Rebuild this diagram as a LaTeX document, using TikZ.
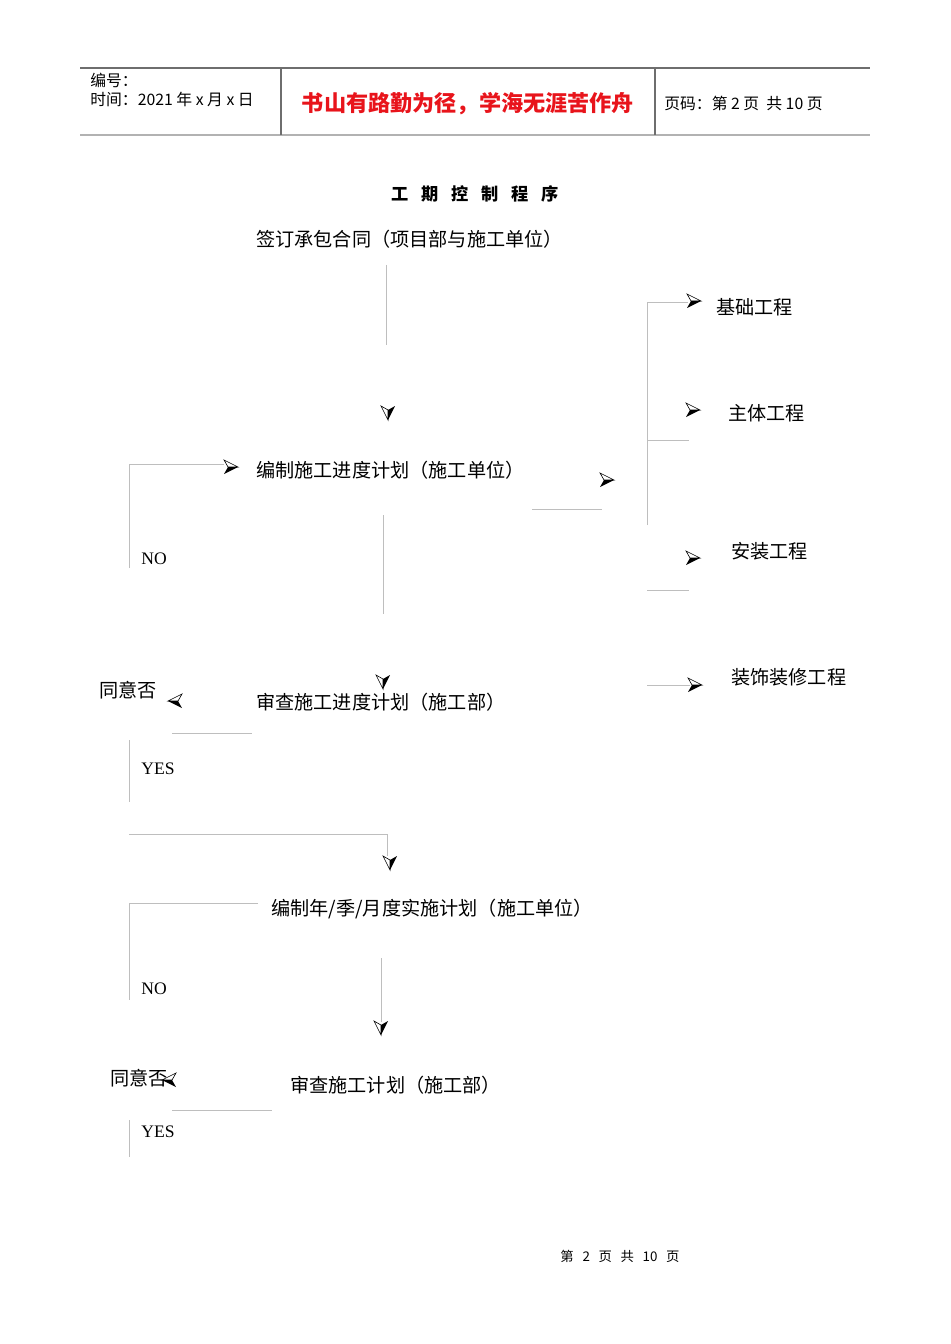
\documentclass[tikz,border=0pt]{standalone}
\usepackage{fontspec}
\setmainfont{Liberation Serif}
\newfontfamily\cjk{Noto Sans CJK SC}
\usetikzlibrary{arrows.meta, positioning, calc}
\definecolor{flowgray}{HTML}{BEBEBE}
\definecolor{rulegray}{HTML}{6E6E6E}
\definecolor{mottored}{HTML}{E8141B}

\tikzset{
  tipmark/.pic={
    \draw[black, fill=white, line width=0.35pt] (0,0) -- (-14,-7) -- (-10,0) -- cycle;
    \fill[black] (0,0) -- (-14,7) -- (-10,0) -- cycle;
  }
}

\begin{document}
\begin{tikzpicture}[x=0.02cm, y=-0.02cm,
      stage/.style={anchor=west, inner sep=0pt,
        font=\cjk\fontsize{10.9}{12}\selectfont},
      verdict/.style={anchor=west, inner sep=0pt,
        font=\fontsize{10}{12}\selectfont},
      headtext/.style={anchor=west, inner sep=0pt,
        font=\cjk\fontsize{9}{10}\selectfont},
      flow/.style={draw=flowgray, line width=0.55pt},
      >=Latex
    ]
  \useasboundingbox (0,0) rectangle (950,1344);

  % header table
  \draw[rulegray, line width=0.7pt] (80,68) -- (870,68);
  \draw[gray!60, line width=1.2pt] (80,135) -- (870,135);
  \draw[rulegray, line width=0.7pt] (281,68) -- (281,135);
  \draw[rulegray, line width=0.7pt] (655,68) -- (655,135);
  \node[headtext] (serial) at (90,80) {编号：};
  \node[headtext] (date) at (90,99) {时间：2021 年 x 月 x 日};
  \node[inner sep=0pt, text=mottored,
    font=\cjk\bfseries\fontsize{12.6}{14}\selectfont] (motto) at (468,104)
    {书山有路勤为径，学海无涯苦作舟};
  \node[headtext] (pageno) at (664,103) {页码：第 2 页\ \ 共 10 页};

  % title
  \node[inner sep=0pt, font=\cjk\bfseries\fontsize{9.8}{12}\selectfont]
    (title) at (475,194)
    {工\hspace{0.75em}期\hspace{0.75em}控\hspace{0.75em}制\hspace{0.75em}程\hspace{0.75em}序};

  % main column
  \node[stage] (contract) at (256,239) {签订承包合同（项目部与施工单位）};
  \node[stage] (draftplan) at (256,470) {编制施工进度计划（施工单位）};
  \node[stage] (reviewplan) at (256,702) {审查施工进度计划（施工部）};
  \node[stage] (periodplan) at (271,909) {编制年/季/月度实施计划（施工单位）};
  \node[stage] (reviewwork) at (290,1085) {审查施工计划（施工部）};

  \node[stage] (agreeA) at (99,690) {同意否};
  \node[stage] (agreeB) at (110,1078) {同意否};
  \node[verdict] (noA) at (141,559) {NO};
  \node[verdict] (yesA) at (141,769) {YES};
  \node[verdict] (noB) at (141,989) {NO};
  \node[verdict] (yesB) at (141,1132) {YES};

  % sub-works
  \node[stage] (found) at (716,307) {基础工程};
  \node[stage] (struct) at (728,413) {主体工程};
  \node[stage] (install) at (731,551) {安装工程};
  \node[stage] (finish) at (731,677) {装饰装修工程};

  % footer
  \node[inner sep=0pt, font=\cjk\fontsize{7.6}{9}\selectfont] (footer)
    at (620,1256)
    {第\hspace{0.65em}2\hspace{0.65em}页\hspace{0.65em}共\hspace{0.65em}10\hspace{0.65em}页};

  % connector pieces
  \coordinate (c1) at (386,265);   \coordinate (c2) at (386,345);
  \coordinate (n1) at (129,568);   \coordinate (n2) at (129,464);
  \coordinate (n3) at (224,464);
  \coordinate (r1) at (532,509);   \coordinate (r2) at (602,509);
  \coordinate (d1) at (383,515);   \coordinate (d2) at (383,614);
  \coordinate (g1) at (172,733);   \coordinate (g2) at (252,733);
  \coordinate (y1) at (129,740);   \coordinate (y2) at (129,802);
  \coordinate (h1) at (129,834);   \coordinate (h2) at (387,834);
  \coordinate (h3) at (387,856);
  \coordinate (m1) at (258,903);   \coordinate (m2) at (129,903);
  \coordinate (m3) at (129,1000);
  \coordinate (v1) at (381,958);   \coordinate (v2) at (381,1022);
  \coordinate (k1) at (172,1110);  \coordinate (k2) at (272,1110);
  \coordinate (z1) at (129,1120);  \coordinate (z2) at (129,1157);
  \coordinate (b1) at (647,525);   \coordinate (b2) at (647,302);
  \coordinate (b3) at (688,302);
  \coordinate (s1) at (647,440);   \coordinate (s2) at (689,440);
  \coordinate (t1) at (647,590);   \coordinate (t2) at (689,590);
  \coordinate (f1) at (647,685);   \coordinate (f2) at (690,685);

  \draw[flow] (c1) -- (c2);
  \draw[flow] (n1) -- (n2) -- (n3);
  \draw[flow] (r1) -- (r2);
  \draw[flow] (d1) -- (d2);
  \draw[flow] (g1) -- (g2);
  \draw[flow] (y1) -- (y2);
  \draw[flow] (h1) -- (h2) -- (h3);
  \draw[flow] (m1) -- (m2) -- (m3);
  \draw[flow] (v1) -- (v2);
  \draw[flow] (k1) -- (k2);
  \draw[flow] (z1) -- (z2);
  \draw[flow] (b1) -- (b2) -- (b3);
  \draw[flow] (s1) -- (s2);
  \draw[flow] (t1) -- (t2);
  \draw[flow] (f1) -- (f2);

  % arrow marks
  \pic[rotate=-90, yscale=-1] at (388,420) {tipmark};
  \pic at (238,467) {tipmark};
  \pic at (614,480) {tipmark};
  \pic[rotate=-90, yscale=-1] at (383,689) {tipmark};
  \pic[rotate=180, yscale=-1] at (168,701) {tipmark};
  \pic[rotate=-90, yscale=-1] at (390,870) {tipmark};
  \pic[rotate=-90, yscale=-1] at (381,1035) {tipmark};
  \pic[rotate=180, yscale=-1] at (162,1080) {tipmark};
  \pic at (701,301) {tipmark};
  \pic at (700,410) {tipmark};
  \pic at (700,558) {tipmark};
  \pic at (702,685) {tipmark};
\end{tikzpicture}
\end{document}
